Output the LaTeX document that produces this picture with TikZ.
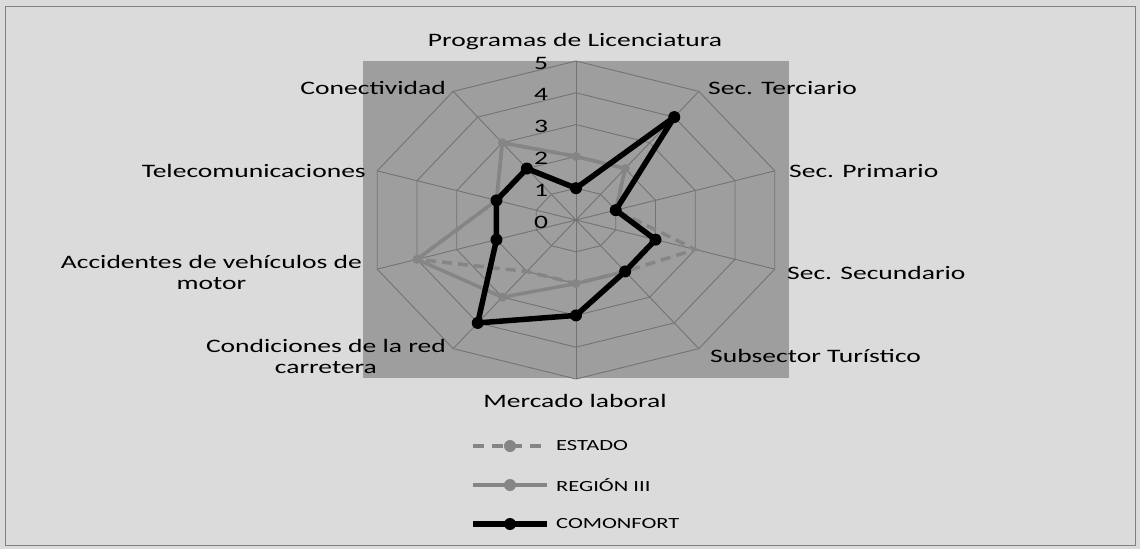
\documentclass[tikz,border=0pt]{standalone}
\usepackage{fontspec}
\setmainfont{Carlito}[FakeStretch=1.45]
\usetikzlibrary{positioning}
\usetikzlibrary{calc}

\definecolor{paper}{gray}{0.86}
\definecolor{plotbg}{gray}{0.62}
\definecolor{gridgray}{gray}{0.45}
\definecolor{seriesgray}{gray}{0.52}

\begin{document}
\begin{tikzpicture}[x=1pt,y=-1pt,
              every node/.style={font=\fontsize{19}{21}\selectfont,inner sep=1pt,align=center},
              grid/.style={draw=gridgray,line width=0.9pt},
              comonfort/.style={draw=black,line width=5.5pt,line join=round},
              region/.style={draw=seriesgray,line width=3.5pt,line join=round},
              estado/.style={draw=seriesgray,line width=3.5pt,dash pattern=on 10pt off 6pt},
              dot/.style={circle,fill=black,inner sep=0pt,minimum size=12pt},
              graydot/.style={circle,fill=seriesgray,inner sep=0pt,minimum size=9pt},
              legtext/.style={anchor=west,font=\fontsize{15.5}{18}\selectfont}]
    \useasboundingbox (0,0) rectangle (1140,549);
    \fill[paper] (0,0) rectangle (1140,549);
    \draw[gray,line width=1pt] (5,6) rectangle (1135,545);
    \fill[plotbg] (363,61) rectangle (789,378);

    \coordinate (c) at (576,220);

    % rings and spokes
    \foreach \r in {1,...,5}
        \draw[grid] (576,{220-31.8*\r})
            \foreach \k in {1,...,9} { -- ({576+41.8*\r*cos(90-36*\k)},{220-31.8*\r*sin(90-36*\k)}) } -- cycle;
    \foreach \k in {0,...,9}
        \draw[grid] (c) -- ({576+209*cos(90-36*\k)},{220-159*sin(90-36*\k)});

    % values
    \foreach \v [count=\k from 0] in {2,2,1,3,2,2,2,4,2,3}
        \coordinate (est\k) at ({576+41.8*\v*cos(90-36*\k)},{220-31.8*\v*sin(90-36*\k)});
    \foreach \v [count=\k from 0] in {2,2,1,2,2,2,3,4,2,3}
        \coordinate (reg\k) at ({576+41.8*\v*cos(90-36*\k)},{220-31.8*\v*sin(90-36*\k)});
    \foreach \v [count=\k from 0] in {1,4,1,2,2,3,4,2,2,2}
        \coordinate (com\k) at ({576+41.8*\v*cos(90-36*\k)},{220-31.8*\v*sin(90-36*\k)});

    \draw[estado] (est0) \foreach \k in {1,...,9} { -- (est\k) } -- cycle;
    \draw[region] (reg0) \foreach \k in {1,...,9} { -- (reg\k) } -- cycle;
    \foreach \k in {0,...,9} \node[graydot] at (reg\k) {};
    \draw[comonfort] (com0) \foreach \k in {1,...,9} { -- (com\k) } -- cycle;
    \foreach \k in {0,...,9} \node[dot] at (com\k) {};

    % scale
    \foreach \r in {0,...,5}
        \node (tick\r) at (541,{222-31.8*\r}) {\r};

    % axis labels
    \node (lic) at (575,42) {Programas de Licenciatura};
    \node[anchor=west] (ter) at (707,88) {Sec. Terciario};
    \node[anchor=west] (pri) at (788,171) {Sec. Primario};
    \node[anchor=west] (sec) at (786,273) {Sec. Secundario};
    \node[anchor=west] (tur) at (709,356) {Subsector Turístico};
    \node (mer) at (575,401) {Mercado laboral};
    \node[anchor=east] (red) at (447,356) {Condiciones de la red\\carretera};
    \node[anchor=east] (acc) at (363,272) {Accidentes de vehículos de\\motor};
    \node[anchor=east] (tel) at (367,171) {Telecomunicaciones};
    \node[anchor=east] (con) at (447,88) {Conectividad};

    % legend
    \coordinate (l1a) at (473,446); \coordinate (l1b) at (547,446);
    \coordinate (l2a) at (473,485); \coordinate (l2b) at (547,485);
    \coordinate (l3a) at (473,524); \coordinate (l3b) at (547,524);
    \draw[estado,dash pattern=on 11pt off 8pt] (l1a) -- (l1b);
    \node[graydot,minimum size=12pt] at ($(l1a)!0.5!(l1b)$) {};
    \draw[region] (l2a) -- (l2b);
    \node[graydot,minimum size=12pt] at ($(l2a)!0.5!(l2b)$) {};
    \draw[comonfort] (l3a) -- (l3b);
    \node[dot] at ($(l3a)!0.5!(l3b)$) {};
    \node[legtext] (lest) at (555,446) {ESTADO};
    \node[legtext] (lreg) at (555,485) {REGIÓN III};
    \node[legtext] (lcom) at (555,524) {COMONFORT};
\end{tikzpicture}
\end{document}
